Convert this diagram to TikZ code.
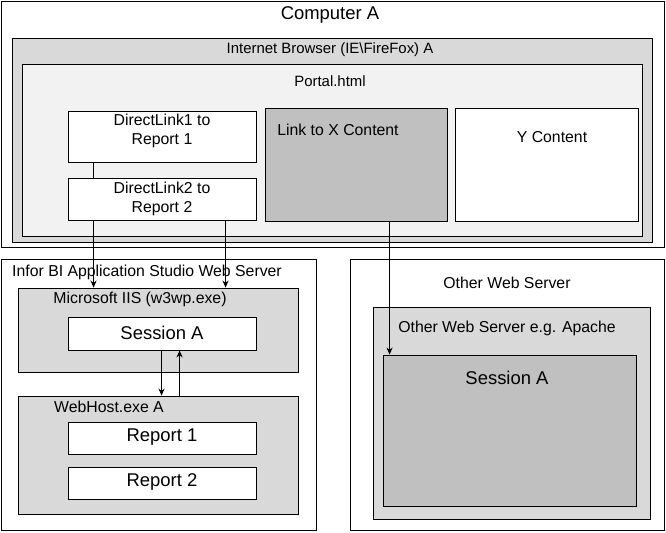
\documentclass[tikz,border=0pt]{standalone}
\usepackage{fontspec}
\setmainfont{Liberation Sans}
\usetikzlibrary{arrows.meta, calc, fit, positioning}
\definecolor{panel}{HTML}{D9D9D9}
\definecolor{pagebg}{HTML}{F2F2F2}
\definecolor{darkpanel}{HTML}{C0C0C0}
\tikzset{
  box/.style={draw=black, line width=0.5pt, inner sep=0pt},
  lbl/.style={font=\fontsize{8.5}{10}\selectfont, inner sep=0pt},
  big/.style={font=\fontsize{9}{11}\selectfont, inner sep=0pt, align=center},
  link/.style={-{Stealth[length=4pt,width=3.5pt]}, line width=0.5pt}
}
\begin{document}
\begin{tikzpicture}[x=0.02cm, y=-0.02cm]
		\useasboundingbox (0,0) rectangle (666,532);
		% Computer A
		\node[box, fill=white, fit={(1,1) (664,247)}] (comp) {};
		\node[big, font=\fontsize{10.5}{12}\selectfont] (compl) at (330,15) {Computer A};
		\node[box, fill=panel, fit={(12,38) (652,242)}] (browser) {};
		\node[lbl] (browserl) at (330,50) {Internet Browser (IE\textbackslash FireFox) A};
		\node[box, fill=pagebg, fit={(22,64) (642,236)}] (portal) {};
		\node[lbl] (portall) at (330,81) {Portal.html};
		
		% Portal content
		\node[box, fill=white, fit={(68,111) (256,162)}] (dl1) {};
		\node[big] (dl1l) at (162,131) {DirectLink1 to\\Report 1};
		\node[box, fill=white, fit={(68,178) (256,220)}] (dl2) {};
		\node[big] (dl2l) at (162,199) {DirectLink2 to\\Report 2};
		\node[box, fill=darkpanel, fit={(265,108) (447,221)}] (xcont) {};
		\node[big] (xcontl) at (338,130) {Link to X Content};
		\node[box, fill=white, fit={(455,108) (638,221)}] (ycont) {};
		\node[big] (ycontl) at (552,137) {Y Content};
		\draw[line width=0.5pt] ($(dl1.south west)+(26,0)$) -- ($(dl2.north west)+(26,0)$);
		
		% Infor BI server
		\node[box, fill=white, fit={(1,259) (316,530)}] (infor) {};
		\node[big] (inforl) at (147,272) {Infor BI Application Studio Web Server};
		\node[box, fill=panel, fit={(18,288) (298,372)}] (iis) {};
		\node[big] (iisl) at (140,299) {Microsoft IIS (w3wp.exe)};
		\node[box, fill=white, fit={(68,317) (256,350)}] (sess) {};
		\node[big, font=\fontsize{10.5}{12}\selectfont] (sessl) at (162,333) {Session A};
		\node[box, fill=panel, fit={(18,396) (298,514)}] (webhost) {};
		\node[big] (webhostl) at (109,407) {WebHost.exe A};
		\node[box, fill=white, fit={(68,422) (256,454)}] (rep1) {};
		\node[big, font=\fontsize{10.5}{12}\selectfont] (rep1l) at (162,437) {Report 1};
		\node[box, fill=white, fit={(68,467) (256,499)}] (rep2) {};
		\node[big, font=\fontsize{10.5}{12}\selectfont] (rep2l) at (162,482) {Report 2};
		
		% Other web server
		\node[box, fill=white, fit={(350,259) (664,530)}] (other) {};
		\node[big] (otherl) at (507,283) {Other Web Server};
		\node[box, fill=panel, fit={(373,307) (650,519)}] (apache) {};
		\node[big] (apachel) at (507,328) {Other Web Server e.g. Apache};
		\node[box, fill=darkpanel, fit={(383,355) (636,506)}] (sessb) {};
		\node[big, font=\fontsize{10.5}{12}\selectfont] (sessbl) at (507,378) {Session A};
		
		% Connectors
		\draw[link] ($(dl2.south west)+(26,0)$) -- ($(iis.north west)+(76,0)$);
		\draw[link] ($(dl2.south west)+(158,0)$) -- ($(iis.north west)+(208,0)$);
		\draw[link] ($(xcont.south west)+(125,0)$) -- ($(sessb.north west)+(7,0)$);
		\draw[link] ($(sess.south west)+(94,0)$) -- ($(webhost.north west)+(144,0)$);
		\draw[link] ($(webhost.north west)+(162,0)$) -- ($(sess.south west)+(112,0)$);
	\end{tikzpicture}
\end{document}
